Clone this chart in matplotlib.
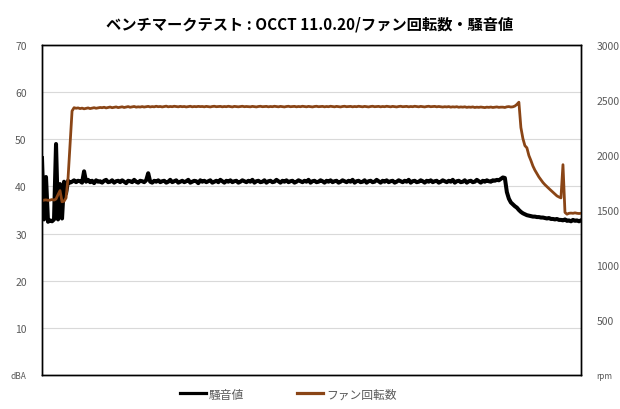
import numpy as np
import matplotlib
matplotlib.use("Agg")
import matplotlib.pyplot as plt
from matplotlib.lines import Line2D

plt.rcParams['font.family'] = ['Noto Sans CJK JP', 'DejaVu Sans']

title = "ベンチマークテスト : OCCT 11.0.20/ファン回転数・騒音値"
noise_label = "騒音値"
fan_label = "ファン回転数"

left_ticks = [0, 10, 20, 30, 40, 50, 60, 70]
left_labels = ["dBA", "10", "20", "30", "40", "50", "60", "70"]
right_ticks = [0, 500, 1000, 1500, 2000, 2500, 3000]
right_labels = ["rpm", "500", "1000", "1500", "2000", "2500", "3000"]

# noise level (dBA), one sample every step
noise = [
    46.0, 33.0, 42.0, 32.5, 32.8, 32.6, 33.0, 49.0, 33.0, 40.5,
    33.2, 41.0, 38.5, 41.2, 40.8, 41.0, 41.3, 40.9, 41.2, 41.1,
    40.8, 43.2, 41.0, 41.4, 40.9, 41.2, 40.7, 41.3, 41.0, 41.1,
    40.8, 41.2, 41.4, 40.9, 41.0, 41.3, 40.8, 41.1, 41.2, 40.9,
    41.3, 41.0, 40.7, 41.2, 41.1, 40.9, 41.4, 41.0, 40.8, 41.2,
    41.1, 40.9, 41.3, 42.8, 41.0, 40.8, 41.2, 41.0, 41.3, 40.9,
    41.1, 41.2, 40.8, 41.0, 41.4, 40.9, 41.1, 41.3, 40.8, 41.0,
    41.2, 40.9, 41.1, 41.4, 40.8, 41.0, 41.2, 41.1, 40.7, 41.3,
    41.0, 41.2, 40.9, 41.1, 41.3, 40.8, 41.0, 41.2, 40.9, 41.4,
    41.1, 40.8, 41.2, 41.0, 41.3, 40.9, 41.1, 41.2, 40.8, 41.0,
    41.3, 41.1, 40.9, 41.2, 41.0, 41.4, 40.8, 41.1, 41.2, 40.9,
    41.0, 41.3, 40.8, 41.1, 41.2, 40.9, 41.0, 41.4, 41.1, 40.8,
    41.2, 41.0, 41.3, 40.9, 41.1, 41.2, 40.8, 41.0, 41.3, 41.1,
    40.9, 41.2, 41.0, 41.4, 40.8, 41.1, 41.2, 40.9, 41.0, 41.3,
    41.1, 40.8, 41.2, 41.0, 41.3, 40.9, 41.1, 41.2, 40.8, 41.0,
    41.3, 41.1, 40.9, 41.2, 41.0, 41.4, 40.8, 41.1, 41.2, 40.9,
    41.0, 41.3, 40.8, 41.1, 41.2, 40.9, 41.0, 41.4, 41.1, 40.8,
    41.2, 41.0, 41.3, 40.9, 41.1, 41.2, 40.8, 41.0, 41.3, 41.1,
    40.9, 41.2, 41.0, 41.4, 40.8, 41.1, 41.2, 40.9, 41.0, 41.3,
    41.1, 40.8, 41.2, 41.0, 41.3, 40.9, 41.1, 41.2, 40.8, 41.0,
    41.3, 41.1, 40.9, 41.2, 41.0, 41.4, 40.8, 41.1, 41.2, 40.9,
    41.0, 41.3, 40.8, 41.1, 41.2, 40.9, 41.0, 41.4, 41.1, 40.8,
    41.2, 41.0, 41.3, 41.1, 41.0, 41.3, 41.2, 41.4, 41.3, 41.6,
    41.9, 41.8, 38.8, 37.4, 36.6, 36.2, 35.8, 35.5, 35.0, 34.6,
    34.3, 34.1, 33.9, 33.8, 33.7, 33.6, 33.6, 33.5, 33.5, 33.4,
    33.4, 33.3, 33.2, 33.3, 33.1, 33.1, 33.0, 33.1, 32.9, 32.9,
    32.8, 33.0, 32.7, 32.8, 32.6, 32.9, 32.7, 32.8, 32.6, 32.8,
]

# fan speed (rpm), same sampling
fan = [
    1585, 1590, 1592, 1588, 1590, 1595, 1590, 1600, 1640, 1676,
    1575, 1580, 1610, 1790, 2100, 2400, 2430, 2425, 2428, 2422,
    2426, 2420, 2424, 2428, 2422, 2426, 2430, 2425, 2428, 2432,
    2430, 2434, 2428, 2432, 2436, 2430, 2433, 2437, 2431, 2435,
    2438, 2432, 2436, 2440, 2434, 2437, 2441, 2435, 2438, 2436,
    2440, 2436, 2439, 2442, 2437, 2440, 2438, 2443, 2439, 2441,
    2437, 2440, 2444, 2438, 2441, 2439, 2443, 2440, 2438, 2442,
    2439, 2441, 2437, 2440, 2443, 2438, 2441, 2439, 2442, 2440,
    2441, 2438, 2442, 2440, 2437, 2441, 2443, 2439, 2440, 2442,
    2438, 2441, 2439, 2443, 2440, 2437, 2442, 2440, 2438, 2441,
    2443, 2439, 2441, 2440, 2438, 2442, 2440, 2437, 2441, 2443,
    2439, 2440, 2442, 2438, 2441, 2439, 2443, 2440, 2438, 2442,
    2440, 2437, 2441, 2443, 2439, 2440, 2442, 2438, 2441, 2439,
    2443, 2440, 2438, 2442, 2440, 2437, 2441, 2443, 2439, 2440,
    2442, 2438, 2441, 2439, 2443, 2440, 2438, 2442, 2440, 2437,
    2441, 2443, 2439, 2440, 2442, 2438, 2441, 2439, 2443, 2440,
    2438, 2442, 2440, 2437, 2441, 2443, 2439, 2440, 2442, 2438,
    2441, 2439, 2443, 2440, 2438, 2442, 2440, 2437, 2441, 2443,
    2439, 2440, 2442, 2438, 2441, 2439, 2443, 2440, 2438, 2442,
    2440, 2437, 2441, 2443, 2439, 2440, 2442, 2438, 2441, 2439,
    2436, 2439, 2437, 2440, 2435, 2438, 2436, 2439, 2434, 2437,
    2435, 2438, 2433, 2436, 2434, 2437, 2432, 2435, 2433, 2436,
    2434, 2431, 2435, 2433, 2436, 2432, 2434, 2437, 2433, 2435,
    2435, 2432, 2438, 2440, 2436, 2438, 2445, 2460, 2480, 2250,
    2150, 2085, 2065, 1995, 1950, 1900, 1862, 1830, 1800, 1775,
    1750, 1730, 1712, 1695, 1678, 1660, 1645, 1628, 1618, 1610,
    1912, 1478, 1462, 1470, 1472, 1470, 1474, 1470, 1468, 1470,
]

noise_color = "#000000"
fan_color = "#8A4516"
text_color = "#595959"

fig = plt.figure(figsize=(6.2, 4.1), dpi=100)
ax = fig.add_axes([42/620, 34/410, 539/620, 330/410])
ax2 = ax.twinx()

t_noise = np.arange(len(noise))
t_fan = np.arange(len(fan))
ax.plot(t_noise, noise, color=noise_color, lw=2.9, solid_joinstyle='round')
ax2.plot(t_fan, fan, color=fan_color, lw=2.0, solid_joinstyle='round')

n = max(len(noise), len(fan))
ax.set_xlim(0, n - 1)
ax.set_ylim(0, 70)
ax2.set_ylim(0, 3000)

ax.set_yticks(left_ticks)
ax.set_yticklabels(left_labels)
ax2.set_yticks(right_ticks)
ax2.set_yticklabels(right_labels)
ax.set_xticks([])
ax.tick_params(axis='y', length=0, pad=11, labelsize=7.5, labelcolor=text_color)
ax2.tick_params(axis='y', length=0, pad=11, labelsize=7.5, labelcolor=text_color)
ax.get_yticklabels()[0].set_fontsize(6)
ax2.get_yticklabels()[0].set_fontsize(6)

ax.grid(axis='y', color="#D9D9D9", lw=0.8)
ax.set_axisbelow(True)
for a in (ax, ax2):
    for s in a.spines.values():
        s.set_color("black")
        s.set_linewidth(1.0)

fig.text(0.5, 1 - 25/410, title, ha='center', va='center', fontsize=11,
         fontweight='bold', color="#000000")

handles = [Line2D([], [], color=noise_color, lw=2.3),
           Line2D([], [], color=fan_color, lw=2.3)]
fig.legend(handles, [noise_label, fan_label], loc='center',
           bbox_to_anchor=(288/620, 15/410), ncol=2, frameon=False,
           fontsize=8.5, handlelength=2.2, handletextpad=0.25,
           columnspacing=4.5, labelcolor=text_color)

fig.savefig("out.png", dpi=100)
